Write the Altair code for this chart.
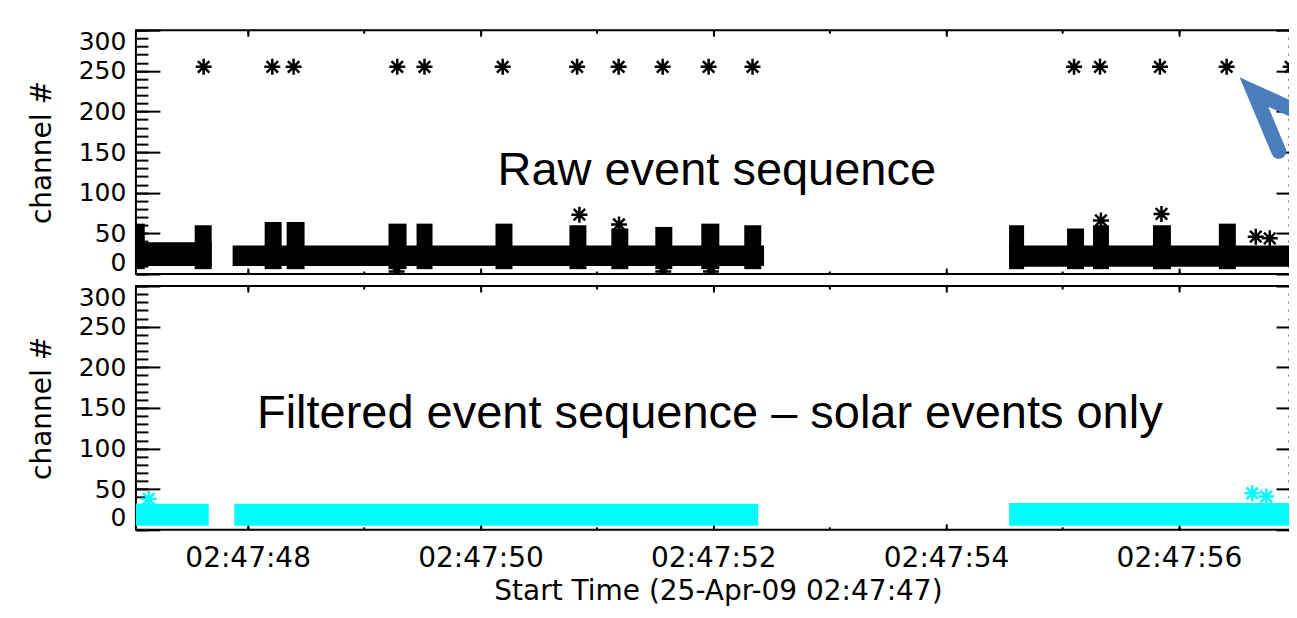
import altair as alt
import pandas as pd

# ---------------- data (time = seconds after 02:47:00, 25-Apr-09) ----------------
# Raw sequence: dense bands of events (start, end, low channel, high channel)
raw_seg_start = [47.04, 47.871, 54.541]
raw_seg_end = [47.691, 52.436, 57.04]
raw_seg_low = [10, 10, 9]
raw_seg_high = [39, 35, 35]

# Raw sequence: short bursts reaching higher channels
raw_burst_start = [47.04, 47.545, 48.146, 48.335, 49.210, 49.451, 50.129, 50.764, 51.124,
                   51.502, 51.897, 52.266, 54.541, 55.039, 55.262, 55.777, 56.343, 56.950]
raw_burst_end = [47.116, 47.691, 48.292, 48.489, 49.365, 49.588, 50.275, 50.910, 51.270,
                 51.648, 52.052, 52.412, 54.670, 55.185, 55.399, 55.931, 56.489, 57.040]
raw_burst_low = [6, 6, 6, 6, 6, 6, 6, 6, 6, 6, 6, 6, 6, 6, 6, 6, 6, 6]
raw_burst_high = [62, 60, 64, 64, 62, 62, 62, 60, 56, 58, 62, 60, 60, 56, 60, 60, 62, 60]

# Raw sequence: saturated events (channel ~255)
sat_time = [47.622, 48.212, 48.395, 49.285, 49.519, 50.191, 50.830, 51.187, 51.565,
            51.960, 52.337, 55.099, 55.322, 55.837, 56.410, 56.960]
sat_channel = [255, 255, 255, 255, 255, 255, 255, 255, 255, 255, 255, 255, 255, 255, 255, 255]

# Raw sequence: isolated events above / below the bands
spike_time = [50.850, 51.190, 55.330, 55.850, 56.660, 56.780, 49.280, 51.570, 51.980]
spike_channel = [73, 61, 66, 74, 46, 44, 3, 3, 3]

# Filtered (solar only) sequence
filt_seg_start = [47.04, 47.885, 54.541]
filt_seg_end = [47.665, 52.386, 57.04]
filt_seg_low = [5, 5, 5]
filt_seg_high = [32, 32, 33]
filt_spike_time = [47.150, 56.630, 56.750]
filt_spike_channel = [38, 45, 41]

# Annotations
raw_label = ["Raw event sequence"]
raw_label_time = [52.03]
raw_label_channel = [109]
filt_label = ["Filtered event sequence \u2013 solar events only"]
filt_label_time = [51.97]
filt_label_channel = [125]
arrow_time = [56.858, 56.644, 57.288]
arrow_channel = [151, 224, 182]
arrow_order = [0, 1, 2]

x_label_values = [48, 50, 52, 54, 56]
x_minor_values = [48, 49, 50, 51, 52, 53, 54, 55, 56, 57]
y_label_values = [0, 50, 100, 150, 200, 250, 300]
y_minor_values = list(range(0, 301, 10))

# ---------------- tables ----------------
raw_seg = pd.DataFrame({"t": raw_seg_start, "t2": raw_seg_end, "ch": raw_seg_low, "ch2": raw_seg_high})
raw_burst = pd.DataFrame({"t": raw_burst_start, "t2": raw_burst_end, "ch": raw_burst_low, "ch2": raw_burst_high})
raw_pts = pd.DataFrame({"t": sat_time + spike_time, "ch": sat_channel + spike_channel})
filt_seg = pd.DataFrame({"t": filt_seg_start, "t2": filt_seg_end, "ch": filt_seg_low, "ch2": filt_seg_high})
filt_pts = pd.DataFrame({"t": filt_spike_time, "ch": filt_spike_channel})
raw_txt = pd.DataFrame({"t": raw_label_time, "ch": raw_label_channel, "label": raw_label})
filt_txt = pd.DataFrame({"t": filt_label_time, "ch": filt_label_channel, "label": filt_label})
arrow_df = pd.DataFrame({"t": arrow_time, "ch": arrow_channel, "o": arrow_order})

# ---------------- layout constants ----------------
W, H = 1165, 244
FONT = "DejaVu Sans"
xs = alt.Scale(domain=[47.04, 57.04], nice=False, zero=False)
ys = alt.Scale(domain=[0, 300], nice=False, zero=False)
ASTERISK = "M-1,0L1,0M0,-1L0,1M-0.72,-0.72L0.72,0.72M-0.72,0.72L0.72,-0.72"


def tick_axis(orient, values, size, offset):
    return alt.Axis(orient=orient, offset=offset, values=values, tickSize=size, tickWidth=2,
                    tickColor="black", labels=False, domain=False, grid=False)


def panel(seg_df, burst_df, pts_df, txt_df, color, show_x, with_arrow):
    if show_x:
        x_axis = alt.Axis(orient="bottom", values=x_label_values,
                          labelExpr="'02:47:' + format(datum.value, '02d')",
                          ticks=False, domain=False, grid=False, labelFont=FONT,
                          labelFontSize=28, labelColor="black",
                          labelPadding=15, labelOverlap=False,
                          titleFont=FONT, titleFontSize=28, titleFontWeight="normal",
                          titleColor="black", titlePadding=5)
        x_title = "Start Time (25-Apr-09 02:47:47)"
    else:
        x_axis = alt.Axis(orient="bottom", labels=False, ticks=False, domain=False, grid=False)
        x_title = None
    y_axis = alt.Axis(orient="left", values=y_label_values, ticks=False, domain=False,
                      grid=False, labelFont=FONT, labelFontSize=25,
                      labelColor="black", labelPadding=10, labelFlush=True,
                      labelFlushOffset=1, labelOverlap=False, titleFont=FONT,
                      titleFontSize=28, titleFontWeight="normal", titleColor="black",
                      titlePadding=22)

    layers = []
    layers.append(
        alt.Chart(seg_df).mark_rect(color=color).encode(
            x=alt.X("t:Q", scale=xs, axis=x_axis, title=x_title),
            x2="t2:Q",
            y=alt.Y("ch:Q", scale=ys, axis=y_axis, title="channel #"),
            y2="ch2:Q",
        )
    )
    if burst_df is not None:
        layers.append(
            alt.Chart(burst_df).mark_rect(color=color).encode(
                x=alt.X("t:Q", scale=xs, axis=None), x2="t2:Q",
                y=alt.Y("ch:Q", scale=ys, axis=None), y2="ch2:Q",
            )
        )
    layers.append(
        alt.Chart(pts_df).mark_point(shape=ASTERISK, size=256, filled=False, strokeWidth=2.5,
                                     color=color, opacity=1, clip=True).encode(
            x=alt.X("t:Q", scale=xs, axis=None),
            y=alt.Y("ch:Q", scale=ys, axis=None),
        )
    )
    layers.append(
        alt.Chart(txt_df).mark_text(font="Liberation Sans", fontSize=47, align="center",
                                    baseline="alphabetic", color="black").encode(
            x=alt.X("t:Q", scale=xs, axis=None),
            y=alt.Y("ch:Q", scale=ys, axis=None),
            text="label:N",
        )
    )
    if with_arrow:
        layers.append(
            alt.Chart(arrow_df).mark_line(color="#4A7EBB", strokeWidth=15, strokeCap="round",
                                          strokeJoin="miter", clip=True).encode(
                x=alt.X("t:Q", scale=xs, axis=None),
                y=alt.Y("ch:Q", scale=ys, axis=None),
                order="o:Q",
            )
        )
    # inward-pointing ticks on all four sides (IDL style box)
    tick_specs = [
        ("top", x_label_values, 6, -H, "right", y_label_values, 24, -W),
        ("top", x_minor_values, 3, -H, "right", y_minor_values, 12, -W),
        ("bottom", x_label_values, 6, -H, "left", y_label_values, 24, -W),
        ("bottom", x_minor_values, 3, -H, "left", y_minor_values, 12, -W),
    ]
    for xo, xv, xsz, xoff, yo, yv, ysz, yoff in tick_specs:
        layers.append(
            alt.Chart(pts_df).mark_point(opacity=0).encode(
                x=alt.X("t:Q", scale=xs, axis=tick_axis(xo, xv, xsz, xoff), title=None),
                y=alt.Y("ch:Q", scale=ys, axis=tick_axis(yo, yv, ysz, yoff), title=None),
            )
        )
    return alt.layer(*layers).resolve_axis(x="independent", y="independent").properties(
        width=W, height=H)


top = panel(raw_seg, raw_burst, raw_pts, raw_txt, "black", False, True)
bottom = panel(filt_seg, None, filt_pts, filt_txt, "#00FFFF", True, False)

# the right edge of the plot box runs just past the visible area, as in the original slide
chart = alt.vconcat(top, bottom, spacing=8).properties(
    padding={"left": 19, "top": 20, "right": -13, "bottom": 5},
    background="white",
).configure_view(stroke="black", strokeWidth=2)

chart.save("out.html", embed_options={"renderer": "svg", "actions": False})
